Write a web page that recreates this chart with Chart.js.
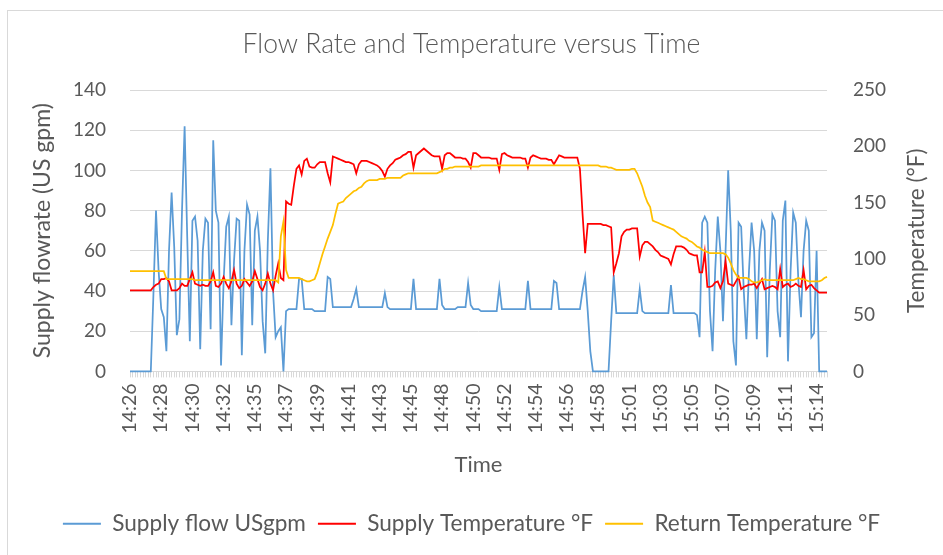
<!DOCTYPE html>
<html><head><meta charset="utf-8">
<script src="https://cdn.jsdelivr.net/npm/chart.js@4.4.1/dist/chart.umd.min.js"></script>
<style>
html,body{margin:0;padding:0;background:#fff;}
#wrap{position:relative;width:943px;height:555px;overflow:hidden;}
#frame{position:absolute;left:7px;top:10px;width:980px;height:600px;border:1px solid #D9D9D9;}
canvas{position:absolute;left:0;top:0;}
</style></head><body>
<div id="wrap"><div id="frame"></div><canvas id="c" width="943" height="555"></canvas></div>
<script>
// ---- data ----
const chartTitle = 'Flow Rate and Temperature versus Time';
const xTitle = 'Time';
const yLeftTitle = 'Supply flowrate (US gpm)';
const yRightTitle = 'Temperature (°F)';
const seriesNames = ['Supply flow USgpm', 'Supply Temperature °F', 'Return Temperature °F'];
const tickLabels = ['14:26','14:28','14:30','14:32','14:35','14:37','14:39','14:41','14:43','14:45','14:48','14:50','14:52','14:54','14:56','14:58','15:01','15:03','15:05','15:07','15:09','15:11','15:14'];
const pointsPerLabel = 12;

const supplyFlow = [
0,0,0,0,0,0,0,0,0,38,
80,50,31,27,10,60,89,62,18,26,
80,122,67,15,75,77,65,11,60,76,
74,21,115,80,74,3,45,72,77,23,
55,76,75,8,60,83,78,23,70,77,
60,25,9,65,101,40,17,20,22,0,
30,31,31,31,31,46,46,31,31,31,
31,30,30,30,30,30,47,46,32,32,
32,32,32,32,32,32,36,41,32,32,
32,32,32,32,32,32,32,32,39,32,
31,31,31,31,31,31,31,31,31,46,
31,31,31,31,31,31,31,31,31,46,
33,31,31,31,31,31,32,32,32,32,
44,33,31,31,31,30,30,30,30,30,
30,30,42,31,31,31,31,31,31,31,
31,31,31,45,31,31,31,31,31,31,
31,31,31,45,44,31,31,31,31,31,
31,31,31,31,40,47,30,10,0,0,
0,0,0,0,0,25,48,29,29,29,
29,29,29,29,29,29,41,30,29,29,
29,29,29,29,29,29,29,29,43,29,
29,29,29,29,29,29,29,29,28,17,
74,77,74,30,10,50,77,60,25,60,
100,70,15,3,74,72,40,16,50,74,
60,16,60,74,70,7,50,78,75,30,
17,75,85,5,50,79,74,45,27,60,
75,70,17,19,60,0,0,0,0];

const supplyTemp = [
72,72,72,72,72,72,72,72,72,75,
77,78,82,82,83,80,72,72,72,74,
78,76,76,82,88,78,77,76,77,76,
76,80,88,76,75,78,84,78,74,80,
90,78,74,76,82,79,76,80,89,82,
75,72,78,87,78,72,85,96,83,81,
151,149,148,165,180,183,175,187,189,182,
181,181,184,186,186,186,176,168,191,190,
189,188,187,186,186,185,184,176,184,187,
187,187,186,185,184,183,181,178,173,180,
183,185,188,189,190,192,193,195,195,181,
192,194,196,198,196,194,192,191,191,191,
180,192,194,194,192,190,190,190,189,189,
186,181,194,194,192,190,190,190,190,189,
189,189,179,193,194,192,191,190,190,190,
190,189,189,181,190,192,191,190,189,189,
189,188,188,184,188,192,191,190,190,190,
190,190,190,180,140,105,131,131,131,131,
131,131,130,130,129,128,88,96,105,120,
124,126,126,127,127,127,102,112,115,115,
113,111,108,106,103,102,101,100,95,104,
111,111,111,110,108,105,104,103,103,88,
88,106,75,75,76,79,80,74,80,98,
78,77,76,80,84,73,75,76,77,77,
78,74,78,82,73,74,75,76,75,73,
91,75,77,78,75,76,78,76,75,90,
73,76,77,74,72,70,70,70,70];

const returnTemp = [
89,89,89,89,89,89,89,89,89,89,
89,89,89,89,82,82,82,82,82,82,
82,82,82,82,82,81,81,81,81,81,
81,81,81,81,81,81,81,81,81,81,
81,81,81,81,81,81,81,81,81,81,
81,81,81,81,81,81,81,79,120,133,
90,83,83,83,83,83,82,81,80,80,
81,82,88,96,104,111,118,124,130,140,
149,150,151,154,156,158,160,161,163,164,
167,169,170,170,170,170,171,171,171,172,
172,172,172,172,172,174,175,176,176,176,
176,176,176,176,176,176,176,176,176,177,
178,180,180,181,181,182,182,182,182,182,
182,182,182,182,182,183,183,183,183,183,
183,183,183,183,183,183,183,183,183,183,
183,183,183,183,183,183,183,183,183,183,
183,183,183,183,183,183,183,183,183,183,
183,183,183,183,183,183,183,183,183,183,
183,182,182,182,181,181,180,179,179,179,
179,179,179,180,180,176,170,164,156,150,
146,134,133,132,131,130,129,128,127,126,
124,122,120,119,118,116,115,113,111,110,
108,107,106,105,105,105,105,105,105,104,
101,96,90,86,83,83,83,83,82,80,
79,79,80,81,82,81,81,81,81,81,
81,81,81,81,81,81,82,83,82,82,
81,80,80,80,80,80,81,83,84];

const leftAxisTicks = {min: 0, max: 140, step: 20};
const rightAxisTicks = {min: 0, max: 250, step: 50};

// ---- build ----
const categories = supplyFlow.map((_, i) => (i % pointsPerLabel === 0 && tickLabels[i / pointsPerLabel] !== undefined) ? tickLabels[i / pointsPerLabel] : '');

const FONT = "Lato, 'Open Sans', sans-serif";
const GREY = '#595959';
const GRID = '#D9D9D9';
Chart.defaults.font.family = FONT;
Chart.defaults.color = GREY;

const rightTitlePlugin = {
  id: 'rightTitle',
  afterDraw(chart) {
    const {ctx, chartArea} = chart;
    ctx.save();
    ctx.translate(917, (chartArea.top + chartArea.bottom) / 2);
    ctx.rotate(-Math.PI / 2);
    ctx.font = '22.5px ' + FONT;
    ctx.fillStyle = GREY;
    ctx.textAlign = 'center';
    ctx.textBaseline = 'middle';
    ctx.fillText(yRightTitle, 0, 0);
    ctx.restore();
  }
};

new Chart(document.getElementById('c'), {
  type: 'line',
  data: {
    labels: categories,
    datasets: [
      {label: seriesNames[0], data: supplyFlow, yAxisID: 'y', borderColor: '#5B9BD5', backgroundColor: '#5B9BD5', borderWidth: 1.75, pointRadius: 0, tension: 0, order: 3, clip: false},
      {label: seriesNames[1], data: supplyTemp, yAxisID: 'y1', borderColor: '#FF0000', backgroundColor: '#FF0000', borderWidth: 1.75, pointRadius: 0, tension: 0, order: 2, clip: false},
      {label: seriesNames[2], data: returnTemp, yAxisID: 'y1', borderColor: '#FFC000', backgroundColor: '#FFC000', borderWidth: 1.75, pointRadius: 0, tension: 0, order: 1, clip: false}
    ]
  },
  options: {
    responsive: false,
    animation: false,
    devicePixelRatio: 1,
    layout: {padding: {left: 0, right: 0, top: 0, bottom: 10}},
    plugins: {
      title: {display: true, text: chartTitle, color: GREY, font: {size: 26.5, weight: '300'}, padding: {top: 28.1, bottom: 30.1}},
      legend: {
        position: 'bottom',
        labels: {
          boxWidth: 38, boxHeight: 2, padding: 12, color: GREY, font: {size: 22.6},
          sort: (a, b) => a.datasetIndex - b.datasetIndex,
          generateLabels(chart) {
            const items = Chart.defaults.plugins.legend.labels.generateLabels(chart);
            items.forEach(it => { it.lineWidth = 0; });
            return items;
          }
        }
      },
      tooltip: {enabled: false}
    },
    scales: {
      x: {
        type: 'category',
        offset: false,
        ticks: {autoSkip: false, minRotation: 90, maxRotation: 90, font: {size: 19.5}, color: GREY, padding: 6},
        grid: {drawOnChartArea: false, color: GRID, tickLength: 6},
        border: {display: true, color: GRID},
        title: {display: true, text: xTitle, color: GREY, font: {size: 22}, padding: {top: 0, bottom: 21.8}},
        afterFit(s) { s.height = 129; }
      },
      y: {
        position: 'left', min: leftAxisTicks.min, max: leftAxisTicks.max,
        ticks: {stepSize: leftAxisTicks.step, font: {size: 19}, color: GREY, padding: 24},
        grid: {color: GRID, drawTicks: false},
        border: {display: false},
        title: {display: true, text: yLeftTitle, color: GREY, font: {size: 23}, padding: {top: 28.5, bottom: 0}},
        afterFit(s) { s.width = 130; }
      },
      y1: {
        position: 'right', min: rightAxisTicks.min, max: rightAxisTicks.max,
        ticks: {stepSize: rightAxisTicks.step, font: {size: 19}, color: GREY, padding: 26},
        grid: {drawOnChartArea: false, drawTicks: false},
        border: {display: false},
        afterFit(s) { s.width = 116; }
      }
    }
  },
  plugins: [rightTitlePlugin]
});
</script>
</body></html>
